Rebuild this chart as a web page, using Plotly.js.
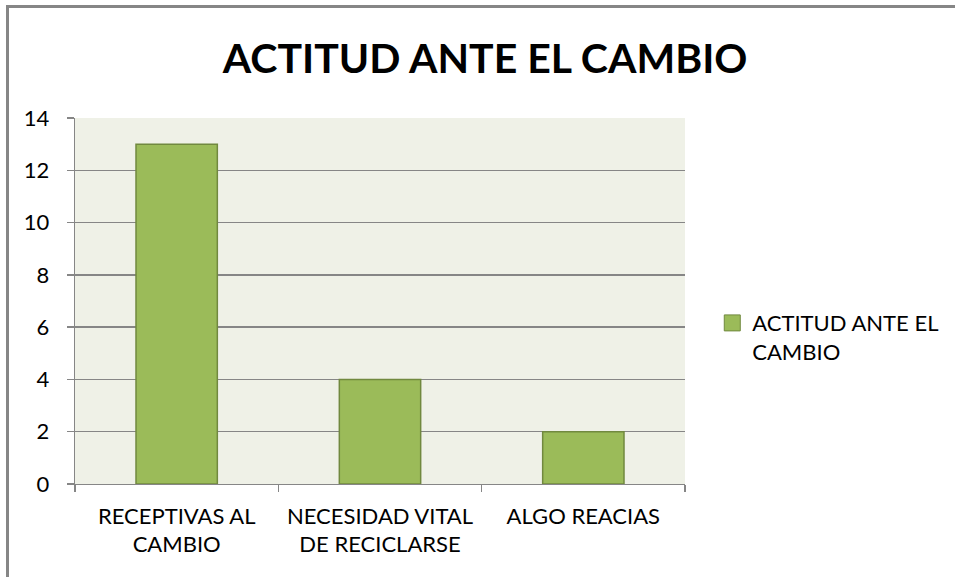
<!DOCTYPE html>
<html>
<head>
<meta charset="utf-8">
<script src="https://cdn.plot.ly/plotly-3.0.1.min.js"></script>
<style>
html,body{margin:0;padding:0;background:#fff;}
#wrap{position:relative;width:955px;height:577px;overflow:hidden;}
#frame{position:absolute;left:6px;top:5px;width:1000px;height:600px;border-top:3px solid #868686;border-left:3px solid #868686;pointer-events:none;z-index:5;}
#chart{position:absolute;left:0;top:0;width:955px;height:577px;}
</style>
</head>
<body>
<div id="wrap">
<div id="chart"></div>
<div id="frame"></div>
</div>
<script>
const categories = ["RECEPTIVAS AL<br>CAMBIO", "NECESIDAD VITAL<br>DE RECICLARSE", "ALGO REACIAS"];
const values = [13, 4, 2];
const seriesName = "ACTITUD ANTE EL<br>CAMBIO";
const yTicks = [0, 2, 4, 6, 8, 10, 12, 14];

const font = "Lato, 'Open Sans', sans-serif";
const barColor = '#9bbb59';
const barLine = '#71893f';

Plotly.newPlot('chart', [{
  type: 'bar',
  x: categories,
  y: values,
  name: seriesName,
  width: 0.4,
  marker: {color: barColor, line: {color: barLine, width: 1.5}},
  showlegend: false
}, {
  type: 'scatter',
  mode: 'markers',
  x: [null], y: [null],
  name: seriesName,
  marker: {symbol: 'square', size: 16, color: barColor, line: {color: barLine, width: 1}},
  showlegend: true,
  hoverinfo: 'skip'
}], {
  width: 955, height: 577,
  margin: {l: 75, r: 269, t: 118, b: 93},
  paper_bgcolor: '#ffffff',
  plot_bgcolor: '#eff1e7',
  title: {text: '<b>ACTITUD ANTE EL CAMBIO</b>', x: 0.508, xanchor: 'center', y: 0.899, yanchor: 'middle',
          font: {family: font, size: 41, color: '#000'}},
  font: {family: font, size: 22, color: '#000'},
  xaxis: {
    type: 'category',
    tickson: 'boundaries',
    ticks: 'outside', ticklen: 7, tickcolor: '#868686', tickwidth: 1.3,
    showline: true, linecolor: '#868686', linewidth: 1.3,
    showgrid: false,
    tickfont: {family: font, size: 22, color: '#000'},
    ticklabelstandoff: 12
  },
  yaxis: {
    range: [0, 14],
    tickvals: yTicks,
    ticks: 'outside', ticklen: 7, tickcolor: '#868686', tickwidth: 1.3,
    showline: true, linecolor: '#868686', linewidth: 1.3,
    showgrid: true, gridcolor: '#868686', gridwidth: 1.3,
    zeroline: false,
    tickfont: {family: font, size: 22, color: '#000'},
    ticklabelstandoff: 13
  },
  legend: {
    x: 1.043, xanchor: 'left', y: 0.40, yanchor: 'middle',
    font: {family: font, size: 22, color: '#000'},
    bgcolor: 'rgba(0,0,0,0)',
    valign: 'top'
  }
}, {staticPlot: true, displayModeBar: false});
</script>
</body>
</html>
